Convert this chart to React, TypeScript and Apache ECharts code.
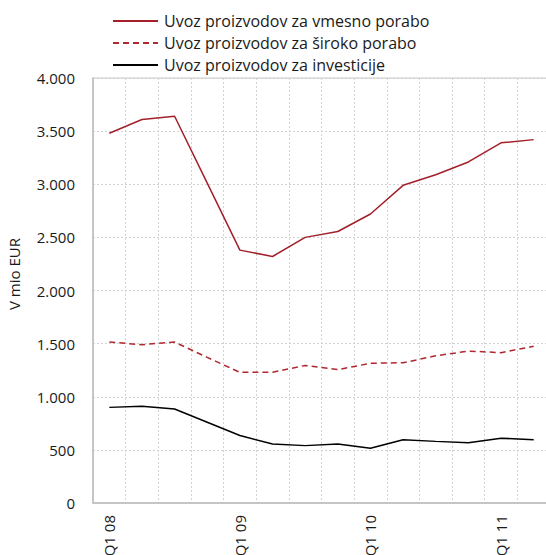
import React, { useEffect, useRef } from "react";
import * as echarts from "echarts";

// Quarterly imports by end use, million EUR
const quarters = [
  "Q1 08", "Q2 08", "Q3 08", "Q4 08",
  "Q1 09", "Q2 09", "Q3 09", "Q4 09",
  "Q1 10", "Q2 10", "Q3 10", "Q4 10",
  "Q1 11", "Q2 11",
];
const intermediateGoods = [3480, 3610, 3640, 3010, 2380, 2320, 2500, 2555, 2720, 2990, 3090, 3210, 3390, 3420];
const consumerGoods = [1515, 1490, 1515, 1370, 1230, 1230, 1295, 1255, 1315, 1320, 1385, 1430, 1415, 1475];
const capitalGoods = [900, 910, 885, 760, 635, 555, 540, 555, 515, 595, 580, 567, 610, 595];

const seriesNames = [
  "Uvoz proizvodov za vmesno porabo",
  "Uvoz proizvodov za široko porabo",
  "Uvoz proizvodov za investicije",
];
const yAxisTitle = "V mio EUR";

const FONT = "'Open Sans', 'Noto Sans', sans-serif";

export default function App() {
  const ref = useRef<HTMLDivElement>(null);

  useEffect(() => {
    if (!ref.current) return;
    const chart = echarts.init(ref.current, null, { renderer: "svg" });
    const gridColor = "#c8c8c8";
    chart.setOption({
      animation: false,
      backgroundColor: "#ffffff",
      textStyle: { fontFamily: FONT, color: "#1a1a1a" },
      legend: {
        orient: "vertical",
        left: 112,
        top: 12,
        padding: 0,
        itemWidth: 45,
        itemHeight: 14,
        itemGap: 4,
        // hide the point marker, keep only the line sample
        itemStyle: { opacity: 0 },
        textStyle: { fontFamily: FONT, fontSize: 16, lineHeight: 18, color: "#1a1a1a", padding: [0, 0, 0, 1] },
        data: seriesNames,
      },
      grid: {
        left: 93,
        right: -4,
        top: 78,
        bottom: 52,
        show: true,
        borderColor: gridColor,
        borderWidth: 1,
        containLabel: false,
        // let the rotated category labels run past the bottom edge
        outerBoundsMode: "none",
      },
      xAxis: {
        type: "category",
        data: quarters,
        boundaryGap: true,
        axisTick: { show: false },
        axisLine: { lineStyle: { color: "#bdbdbd", width: 1.5 } },
        splitLine: {
          show: true,
          interval: 0,
          lineStyle: { color: "#d2d2d2", type: [2, 2], width: 1 },
        },
        axisLabel: {
          interval: 3,
          rotate: 90,
          margin: 12,
          fontFamily: FONT,
          fontSize: 15,
          color: "#1a1a1a",
        },
      },
      yAxis: {
        type: "value",
        min: 0,
        max: 4000,
        interval: 500,
        axisLine: { show: true, lineStyle: { color: "#bdbdbd", width: 1.5 } },
        axisTick: { show: false },
        splitLine: { lineStyle: { color: "#d2d2d2", type: [2, 2], width: 1 } },
        axisLabel: {
          margin: 18,
          fontFamily: FONT,
          fontSize: 15,
          color: "#1a1a1a",
          formatter: (v: number) =>
            v >= 1000 ? `${Math.floor(v / 1000)}.${String(v % 1000).padStart(3, "0")}` : `${v}`,
        },
      },
      graphic: [
        {
          type: "text",
          x: 14,
          y: 274,
          rotation: Math.PI / 2,
          style: {
            text: yAxisTitle,
            fontFamily: FONT,
            fontSize: 15,
            fill: "#1a1a1a",
            align: "center",
            verticalAlign: "middle",
          },
        },
      ],
      series: [
        {
          name: seriesNames[0],
          type: "line",
          data: intermediateGoods,
          symbol: "none",
          lineStyle: { color: "#a3202a", width: 1.5 },
          itemStyle: { color: "#a3202a" },
        },
        {
          name: seriesNames[1],
          type: "line",
          data: consumerGoods,
          symbol: "none",
          lineStyle: { color: "#b0282f", width: 1.5, type: [6, 4] },
          itemStyle: { color: "#b0282f" },
        },
        {
          name: seriesNames[2],
          type: "line",
          data: capitalGoods,
          symbol: "none",
          lineStyle: { color: "#000000", width: 1.5 },
          itemStyle: { color: "#000000" },
        },
      ],
    });
    return () => chart.dispose();
  }, []);

  return <div ref={ref} style={{ width: 546, height: 555, position: "absolute", left: 0, top: 0 }} />;
}
